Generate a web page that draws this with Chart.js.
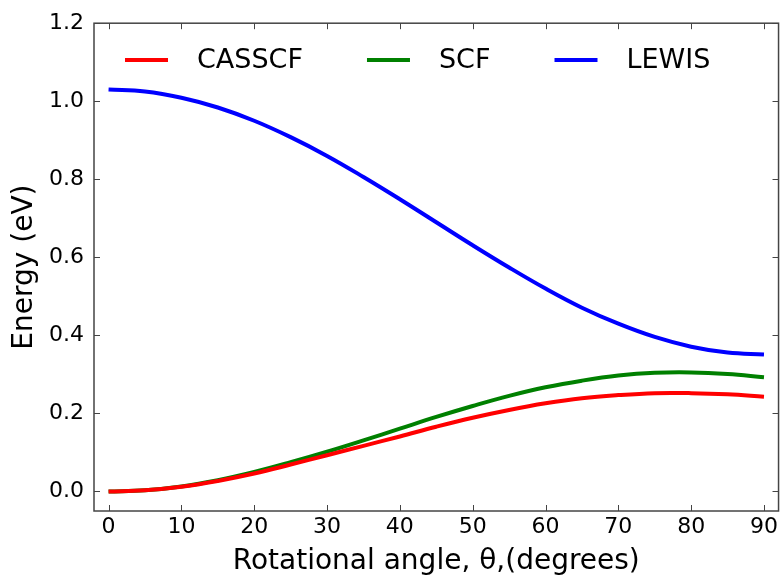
<!DOCTYPE html>
<html>
<head>
<meta charset="utf-8">
<script src="https://cdn.jsdelivr.net/npm/chart.js@4/dist/chart.umd.min.js"></script>
<style>
  html, body { margin: 0; padding: 0; background: #fff; }
  #wrap { width: 781px; height: 576px; }
</style>
</head>
<body>
<div id="wrap"><canvas id="c" width="781" height="576"></canvas></div>
<script>
// ---- data ----
const angles = [0, 5, 10, 15, 20, 25, 30, 35, 40, 45, 50, 55, 60, 65, 70, 75, 80, 85, 90];
const casscf = [0.000, 0.003, 0.012, 0.027, 0.046, 0.069, 0.093, 0.117, 0.141, 0.166, 0.189, 0.209, 0.226, 0.239, 0.247, 0.252, 0.252, 0.249, 0.243];
const scf    = [0.000, 0.003, 0.013, 0.029, 0.050, 0.075, 0.102, 0.131, 0.161, 0.191, 0.219, 0.245, 0.267, 0.284, 0.297, 0.304, 0.305, 0.301, 0.293];
const lewis  = [1.030, 1.025, 1.009, 0.984, 0.950, 0.908, 0.860, 0.806, 0.749, 0.690, 0.631, 0.574, 0.520, 0.471, 0.430, 0.396, 0.371, 0.356, 0.351];
const seriesNames = ['CASSCF', 'SCF', 'LEWIS'];
const xTicks = [0, 10, 20, 30, 40, 50, 60, 70, 80, 90];
const yTicks = [0.0, 0.2, 0.4, 0.6, 0.8, 1.0, 1.2];
const xTitle = 'Rotational angle, θ,(degrees)';
const yTitle = 'Energy (eV)';

const FONT = 'DejaVu Sans';
const frameColor = '#444444';

function pts(ys) { return angles.map((a, i) => ({ x: a, y: ys[i] })); }

const frameTicks = {
  id: 'frameTicks',
  afterDatasetsDraw(chart) {
    const { ctx, chartArea: a, scales } = chart;
    const L = 6;
    ctx.save();
    ctx.strokeStyle = frameColor;
    ctx.lineWidth = 1;
    ctx.beginPath();
    scales.x.ticks.forEach(t => {
      const px = Math.round(scales.x.getPixelForValue(t.value)) + 0.5;
      ctx.moveTo(px, a.bottom); ctx.lineTo(px, a.bottom - L);
      ctx.moveTo(px, a.top); ctx.lineTo(px, a.top + L);
    });
    scales.y.ticks.forEach(t => {
      const py = Math.round(scales.y.getPixelForValue(t.value)) + 0.5;
      ctx.moveTo(a.left, py); ctx.lineTo(a.left + L, py);
      ctx.moveTo(a.right, py); ctx.lineTo(a.right - L, py);
    });
    ctx.stroke();
    ctx.lineWidth = 1.5;
    ctx.strokeRect(a.left, a.top, a.right - a.left, a.bottom - a.top);
    ctx.restore();
  }
};

const innerLegend = {
  id: 'innerLegend',
  afterDraw(chart) {
    const { ctx } = chart;
    const y = 60, lineLen = 43, textGap = 29, colGap = 64;
    let x = 125;
    ctx.save();
    ctx.font = '27px "' + FONT + '"';
    ctx.textBaseline = 'middle';
    ctx.textAlign = 'left';
    chart.data.datasets.forEach(ds => {
      ctx.strokeStyle = ds.borderColor;
      ctx.lineWidth = 4;
      ctx.beginPath();
      ctx.moveTo(x, y); ctx.lineTo(x + lineLen, y);
      ctx.stroke();
      ctx.fillStyle = '#000';
      ctx.fillText(ds.label, x + lineLen + textGap, y + 1);
      x += lineLen + textGap + ctx.measureText(ds.label).width + colGap;
    });
    ctx.restore();
  }
};

const lineStyle = { borderWidth: 4, pointRadius: 0, fill: false, tension: 0.4 };

new Chart(document.getElementById('c'), {
  type: 'line',
  data: {
    datasets: [
      Object.assign({ label: seriesNames[0], data: pts(casscf), borderColor: '#ff0000' }, lineStyle),
      Object.assign({ label: seriesNames[1], data: pts(scf), borderColor: '#008000' }, lineStyle),
      Object.assign({ label: seriesNames[2], data: pts(lewis), borderColor: '#0000ff' }, lineStyle)
    ]
  },
  options: {
    responsive: false,
    animation: false,
    events: [],
    layout: { padding: { left: 0, right: 1, top: 22, bottom: 0 } },
    plugins: { legend: { display: false }, tooltip: { enabled: false } },
    scales: {
      x: {
        type: 'linear', min: -2, max: 92,
        afterBuildTicks: s => { s.ticks = xTicks.map(v => ({ value: v })); },
        afterFit: s => { s.height = 65; },
        grid: { display: false, drawTicks: false },
        border: { display: false },
        ticks: { color: '#000', padding: 3, font: { family: FONT, size: 22 }, maxRotation: 0, callback: v => String(v) },
        title: { display: true, text: xTitle, color: '#000', font: { family: FONT, size: 28, lineHeight: 1 }, padding: { top: 0, bottom: 0 } }
      },
      y: {
        type: 'linear', min: -0.05, max: 1.2,
        afterBuildTicks: s => { s.ticks = yTicks.map(v => ({ value: v })); },
        afterFit: s => { s.width = 94; },
        grid: { display: false, drawTicks: false },
        border: { display: false },
        ticks: { color: '#000', padding: 10, font: { family: FONT, size: 22 }, callback: v => Number(v).toFixed(1) },
        title: { display: true, text: yTitle, color: '#000', font: { family: FONT, size: 28, lineHeight: 1 }, padding: { top: 11, bottom: 0 } }
      }
    }
  },
  plugins: [frameTicks, innerLegend]
});
</script>
</body>
</html>
